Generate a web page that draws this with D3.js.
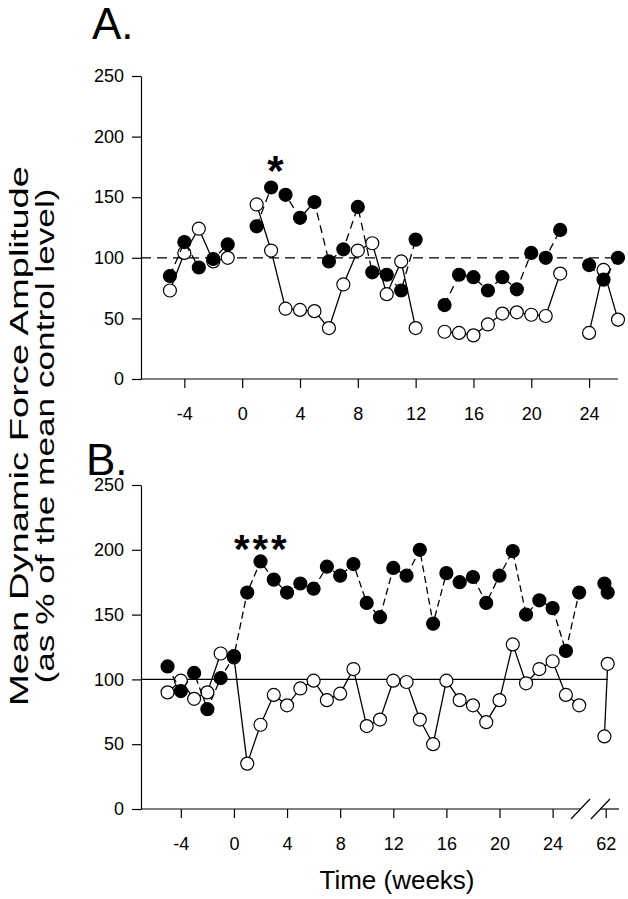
<!DOCTYPE html>
<html>
<head>
<meta charset="utf-8">
<script src="https://cdn.jsdelivr.net/npm/d3@7"></script>
<style>
  html, body { margin: 0; padding: 0; background: #fff; }
  svg { display: block; font-family: "Liberation Sans", Arial, sans-serif; }
</style>
</head>
<body>
<svg id="chart" width="628" height="899"></svg>
<script>
// ---------- DATA ----------
// Panel A
const weeksA = [-5,-4,-3,-2,-1,0,1,2,3,4,5,6,7,8,9,10,11,12,13,14,15,16,17,18,19,20,21,22,23,24,25,26];
const filledA = [85,113,92,99,111,null,126,158,152,133,146,97,107,142,88,86,73,115,null,61,86,84,73,84,74,104,100,123,null,94,82,100];
const openA   = [73,104,124,97,100,null,144,106,58,57,56,42,78,106,112,70,97,42,null,39,38,36,45,54,55,53,52,87,null,38,90,49];

// Panel B (week 62 shown after the axis break)
const weeksB = [-5,-4,-3,-2,-1,0,1,2,3,4,5,6,7,8,9,10,11,12,13,14,15,16,17,18,19,20,21,22,23,24,25,26,40,61.9,62.15];
const filledB = [110,91,105,77,101,118,167,191,177,167,174,170,187,180,189,159,148,186,180,200,143,182,175,179,159,180,199,150,161,155,122,167,null,174,167];
const openB   = [90,99,85,90,120,117,35,65,88,80,93,99,84,89,108,64,69,99,98,69,50,99,84,80,67,84,127,97,108,114,88,80,null,56,112];

const yTicks = [0,50,100,150,200,250];
const xTicksA = [-4,0,4,8,12,16,20,24];
const xTicksB = [-4,0,4,8,12,16,20,24,62];
const controlLevel = 100;

// ---------- LAYOUT ----------
const svg = d3.select("#chart");
const font = "'Liberation Sans', Arial, sans-serif";

// map week to axis position (weeks after the break shifted)
const breakShift = 34;
const pos = w => (w > 30 ? w - breakShift : w);

const xA = d3.scaleLinear().domain([-7, 26]).range([141, 618]);
const yA = d3.scaleLinear().domain([0, 250]).range([379, 76]);
const xB = d3.scaleLinear().domain([-7, 29]).range([141, 619]);
const yB = d3.scaleLinear().domain([0, 250]).range([809, 485]);

function drawAxes(x, y, xTicks, xEnd, breakAt) {
  const g = svg.append("g");
  // y axis
  const ya = d3.axisLeft(y).tickValues(yTicks).tickSize(9).tickPadding(8).tickSizeOuter(0);
  const yg = g.append("g").attr("transform", `translate(${x.range()[0]},0)`).call(ya);
  yg.select(".domain").attr("stroke", "#000").attr("stroke-width", 1.2);
  yg.selectAll(".tick line").attr("stroke", "#000").attr("stroke-width", 1.2);
  yg.selectAll(".tick text").attr("font-size", 18).attr("font-family", font).attr("fill", "#000");

  // x axis
  const xa = d3.axisBottom(x).tickValues(xTicks.map(pos)).tickSize(9).tickPadding(19).tickSizeOuter(0)
    .tickFormat((d, i) => String(xTicks[i]));
  const xg = g.append("g").attr("transform", `translate(0,${y(0)})`).call(xa);
  xg.select(".domain").remove();
  xg.selectAll(".tick line").attr("stroke", "#000").attr("stroke-width", 1.2);
  xg.selectAll(".tick text").attr("font-size", 18).attr("font-family", font).attr("fill", "#000");

  const y0 = y(0);
  if (breakAt) {
    g.append("line").attr("x1", x.range()[0]).attr("x2", x(breakAt[0])).attr("y1", y0).attr("y2", y0)
      .attr("stroke", "#000").attr("stroke-width", 1.2);
    g.append("line").attr("x1", x(breakAt[1])).attr("x2", xEnd).attr("y1", y0).attr("y2", y0)
      .attr("stroke", "#000").attr("stroke-width", 1.2);
    breakAt.forEach(b => {
      g.append("line").attr("x1", x(b) - 9.5).attr("x2", x(b) + 9.5).attr("y1", y0 + 10).attr("y2", y0 - 10)
        .attr("stroke", "#000").attr("stroke-width", 1.2);
    });
  } else {
    g.append("line").attr("x1", x.range()[0]).attr("x2", xEnd).attr("y1", y0).attr("y2", y0)
      .attr("stroke", "#000").attr("stroke-width", 1.2);
  }
}

function drawSeries(x, y, weeks, vals, filled, dash) {
  const data = weeks.map((w, i) => ({ w: pos(w), v: vals[i] }));
  const line = d3.line().defined(d => d.v != null).x(d => x(d.w)).y(d => y(d.v));
  svg.append("path").datum(data).attr("d", line).attr("fill", "none")
    .attr("stroke", "#000").attr("stroke-width", 1.3)
    .attr("stroke-dasharray", dash || null);
  svg.append("g").selectAll("circle").data(data.filter(d => d.v != null)).join("circle")
    .attr("cx", d => x(d.w)).attr("cy", d => y(d.v)).attr("r", 6.5)
    .attr("fill", filled ? "#000" : "#fff").attr("stroke", "#000").attr("stroke-width", 1.2);
}

// ---------- PANEL A ----------
drawAxes(xA, yA, xTicksA, 618, null);
svg.append("line").attr("x1", xA(-7)).attr("x2", xA(26)).attr("y1", yA(controlLevel)).attr("y2", yA(controlLevel))
  .attr("stroke", "#000").attr("stroke-width", 1.2).attr("stroke-dasharray", "10,6");
drawSeries(xA, yA, weeksA, openA, false, null);
drawSeries(xA, yA, weeksA, filledA, true, "8,5");
svg.append("text").attr("x", xA(2.3)).attr("y", yA(160)).attr("text-anchor", "middle")
  .attr("font-size", 42).attr("font-weight", "bold").attr("font-family", font).text("*");
svg.append("text").attr("x", 92).attr("y", 39).attr("font-size", 44).attr("font-family", font).text("A.");

// ---------- PANEL B ----------
drawAxes(xB, yB, xTicksB, 619, [26.1, 27.6]);
svg.append("line").attr("x1", xB(-7)).attr("x2", xB(pos(62.15))).attr("y1", yB(controlLevel)).attr("y2", yB(controlLevel))
  .attr("stroke", "#000").attr("stroke-width", 1.2);
drawSeries(xB, yB, weeksB, openB, false, null);
drawSeries(xB, yB, weeksB, filledB, true, "7,4");
svg.append("text").attr("x", xB(2.1)).attr("y", yB(190)).attr("text-anchor", "middle")
  .attr("font-size", 40).attr("font-weight", "bold").attr("letter-spacing", 3).attr("font-family", font).text("***");
svg.append("text").attr("x", 86).attr("y", 475).attr("font-size", 44).attr("font-family", font).text("B.");

// ---------- TITLES ----------
svg.append("text").attr("transform", "translate(28,436) rotate(-90)").attr("text-anchor", "middle")
  .attr("font-size", 25).attr("font-family", font)
  .attr("textLength", 540).attr("lengthAdjust", "spacingAndGlyphs")
  .text("Mean Dynamic Force Amplitude");
svg.append("text").attr("transform", "translate(54,436) rotate(-90)").attr("text-anchor", "middle")
  .attr("font-size", 25).attr("font-family", font)
  .attr("textLength", 495).attr("lengthAdjust", "spacingAndGlyphs")
  .text("(as % of the mean control level)");
svg.append("text").attr("x", 397).attr("y", 889).attr("text-anchor", "middle")
  .attr("font-size", 26).attr("font-family", font).text("Time (weeks)");
</script>
</body>
</html>
